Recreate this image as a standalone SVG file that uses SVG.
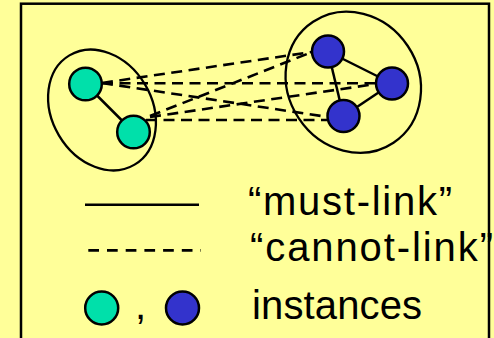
<svg xmlns="http://www.w3.org/2000/svg" width="494" height="338" viewBox="0 0 494 338">
<style>
.bg{fill:#FFFF99}
.frame{fill:none;stroke:#000;stroke-width:2.5}
.cluster{fill:none;stroke:#000;stroke-width:2.3}
.must{stroke:#000;stroke-width:2.5;fill:none}
.cannot{stroke:#000;stroke-width:2.6;fill:none;stroke-dasharray:11 6.5}
.green{fill:#00E0AA;stroke:#000;stroke-width:2.5}
.blue{fill:#3333CC;stroke:#000;stroke-width:2.5}
.lbl{font-family:"Liberation Sans",Arial,sans-serif;font-size:40px;fill:#000}
</style>
<rect class="bg" x="0" y="0" width="494" height="338"/>
<rect class="frame" x="21" y="3.7" width="468" height="400"/>
<g id="clusters">
<ellipse id="cluster-left" class="cluster" cx="102" cy="110" rx="50" ry="63.6" transform="rotate(-30.8 102 110)"/>
<ellipse id="cluster-right" class="cluster" cx="353.3" cy="82.2" rx="65.4" ry="72.6" transform="rotate(-33.6 353.3 82.2)"/>
</g>
<g id="connectors">
<line class="cannot" x1="102" y1="83" x2="312" y2="52"/>
<line class="cannot" x1="102" y1="83.3" x2="376" y2="83.3"/>
<line class="cannot" x1="102" y1="83" x2="328" y2="117"/>
<line class="cannot" x1="150" y1="116" x2="312" y2="52"/>
<line class="cannot" x1="150" y1="117" x2="376" y2="84"/>
<line class="cannot" x1="146" y1="120" x2="328" y2="120"/>
<line class="must" x1="85.5" y1="84" x2="133.5" y2="132"/>
<line class="must" x1="328" y1="51.5" x2="392" y2="83.5"/>
<line class="must" x1="328" y1="51.5" x2="343.5" y2="116"/>
<line class="must" x1="392" y1="83.5" x2="343.5" y2="116"/>
</g>
<g id="g1"><circle class="green" cx="85.5" cy="84" r="16.3"/></g>
<g id="g2"><circle class="green" cx="133.5" cy="132" r="16.3"/></g>
<g id="b1"><circle class="blue" cx="328" cy="51.5" r="16"/></g>
<g id="b2"><circle class="blue" cx="392" cy="83.5" r="16"/></g>
<g id="b3"><circle class="blue" cx="343.5" cy="116" r="16"/></g>
<g id="legend">
<line class="must" x1="85" y1="204.7" x2="199" y2="204.7"/>
<line stroke="#000" stroke-width="2.7" stroke-dasharray="10.7 8" x1="88.3" y1="250.3" x2="201" y2="250.3"/>
<circle class="green" cx="101.7" cy="308" r="16.5"/>
<text class="lbl" x="135" y="319">,</text>
<circle class="blue" cx="182.5" cy="308" r="16.5"/>
<text class="lbl" x="248" y="215" textLength="204" lengthAdjust="spacing">“must-link”</text>
<text class="lbl" x="250" y="261" textLength="243" lengthAdjust="spacing">“cannot-link”</text>
<text class="lbl" x="252" y="318.5" textLength="170" lengthAdjust="spacing">instances</text>
</g>
</svg>
